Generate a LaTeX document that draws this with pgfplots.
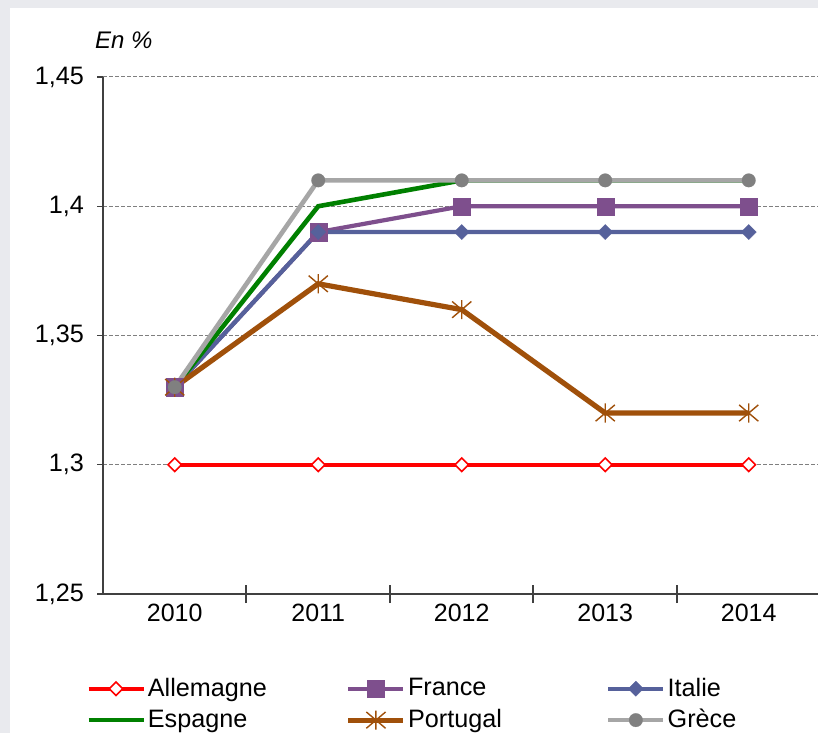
\documentclass[border=0pt]{standalone}
\usepackage{pgfplots}
\pgfplotsset{compat=1.18}
\usepackage{fontspec}
\setmainfont{Liberation Sans}

\definecolor{bgframe}{HTML}{E9EAEE}
\definecolor{axisgray}{HTML}{404040}
\definecolor{gridgray}{HTML}{7F7F7F}
\definecolor{cAll}{HTML}{FF0000}
\definecolor{cFra}{HTML}{7E4F8D}
\definecolor{cIta}{HTML}{56619B}
\definecolor{cEsp}{HTML}{008000}
\definecolor{cPor}{HTML}{A0500A}
\definecolor{cGreL}{HTML}{A6A6A6}
\definecolor{cGreM}{HTML}{808080}

% X with a vertical bar, like the spreadsheet "star" marker
\pgfdeclareplotmark{xstar}{%
  \pgfpathmoveto{\pgfqpoint{-\pgfplotmarksize}{-0.85\pgfplotmarksize}}%
  \pgfpathlineto{\pgfqpoint{\pgfplotmarksize}{0.85\pgfplotmarksize}}%
  \pgfpathmoveto{\pgfqpoint{-\pgfplotmarksize}{0.85\pgfplotmarksize}}%
  \pgfpathlineto{\pgfqpoint{\pgfplotmarksize}{-0.85\pgfplotmarksize}}%
  \pgfpathmoveto{\pgfqpoint{0pt}{-\pgfplotmarksize}}%
  \pgfpathlineto{\pgfqpoint{0pt}{\pgfplotmarksize}}%
  \pgfusepathqstroke}

\begin{document}
\begin{tikzpicture}
% 1 px of the reference = 0.5pt
\useasboundingbox (0,0) rectangle (409pt,366.5pt);
\fill[bgframe] (0,0) rectangle (409pt,366.5pt);
\fill[white] (5pt,0) rectangle (409pt,362.5pt);
\node[anchor=west,font=\fontsize{12}{14}\selectfont\itshape] at (44pt,346.5pt) {En \%};

\begin{axis}[
    at={(51.5pt,69.5pt)}, anchor=south west,
    scale only axis,
    width=357.3pt, height=258.5pt,
    xmin=-0.5, xmax=4.48,
    ymin=1.25, ymax=1.45,
    axis lines*=left,
    axis line style={draw=axisgray, line width=1pt, -},
    xtick={0,1,2,3,4},
    xticklabels={2010,2011,2012,2013,2014},
    major x tick style={draw=none},
    minor xtick={0.5,1.5,2.5,3.5},
    minor x tick style={draw=axisgray, line width=1pt},
    minor tick length=9pt,
    xtick align=center,
    ytick={1.25,1.3,1.35,1.4,1.45},
    ytick align=outside,
    major y tick style={draw=axisgray, line width=0.7pt},
    major tick length=3pt,
    ymajorgrids,
    grid style={draw=gridgray, line width=0.5pt, dash pattern=on 2pt off 1pt},
    /pgf/number format/use comma,
    /pgf/number format/assume math mode=true,
    yticklabel style={font=\fontsize{12.6}{14}\selectfont, xshift=-3pt},
    xticklabel style={font=\fontsize{12.5}{14}\selectfont},
    clip=false,
    legend columns=3,
    legend cell align=left,
    legend style={
        at={(axis description cs:-0.024,-0.158)}, anchor=north west,
        draw=none, fill=none, inner sep=0pt,
        column sep=0pt, row sep=3pt,
        font=\fontsize{12.6}{14}\selectfont,
        nodes={text width=98pt, align=left, inner sep=1pt},
    },
    legend image code/.code={
        \draw[mark repeat=2, mark phase=2, #1]
        plot coordinates {(0pt,0pt) (13.75pt,0pt) (27.5pt,0pt)};
    },
]
\addplot[cAll, line width=2.2pt, mark=square*, mark size=2.4pt,
    mark options={solid, fill=white, draw=cAll, line width=0.8pt, rotate=45}]
    coordinates {(0,1.30) (1,1.30) (2,1.30) (3,1.30) (4,1.30)};
\addlegendentry{Allemagne}
\addplot[cFra, line width=2.1pt, mark=square*, mark size=4.3pt,
    mark options={solid, fill=cFra, draw=cFra, line width=0.1pt}]
    coordinates {(0,1.33) (1,1.39) (2,1.40) (3,1.40) (4,1.40)};
\addlegendentry{France}
\addplot[cIta, line width=2.1pt, mark=square*, mark size=2.7pt,
    mark options={solid, fill=cIta, draw=cIta, line width=0.1pt, rotate=45}]
    coordinates {(0,1.33) (1,1.39) (2,1.39) (3,1.39) (4,1.39)};
\addlegendentry{Italie}
\addplot[cEsp, line width=2.3pt, mark=none]
    coordinates {(0,1.33) (1,1.40) (2,1.41) (3,1.41) (4,1.41)};
\addlegendentry{Espagne}
\addplot[cPor, line width=2.6pt, mark=xstar, mark size=4.8pt,
    mark options={solid, draw=cPor, line width=0.7pt}]
    coordinates {(0,1.33) (1,1.37) (2,1.36) (3,1.32) (4,1.32)};
\addlegendentry{Portugal}
\addplot[cGreL, line width=2.3pt, mark=*, mark size=3.4pt,
    mark options={solid, fill=cGreM, draw=cGreM, line width=0.1pt}]
    coordinates {(0,1.33) (1,1.41) (2,1.41) (3,1.41) (4,1.41)};
\addlegendentry{Grèce}
\end{axis}
\end{tikzpicture}
\end{document}
